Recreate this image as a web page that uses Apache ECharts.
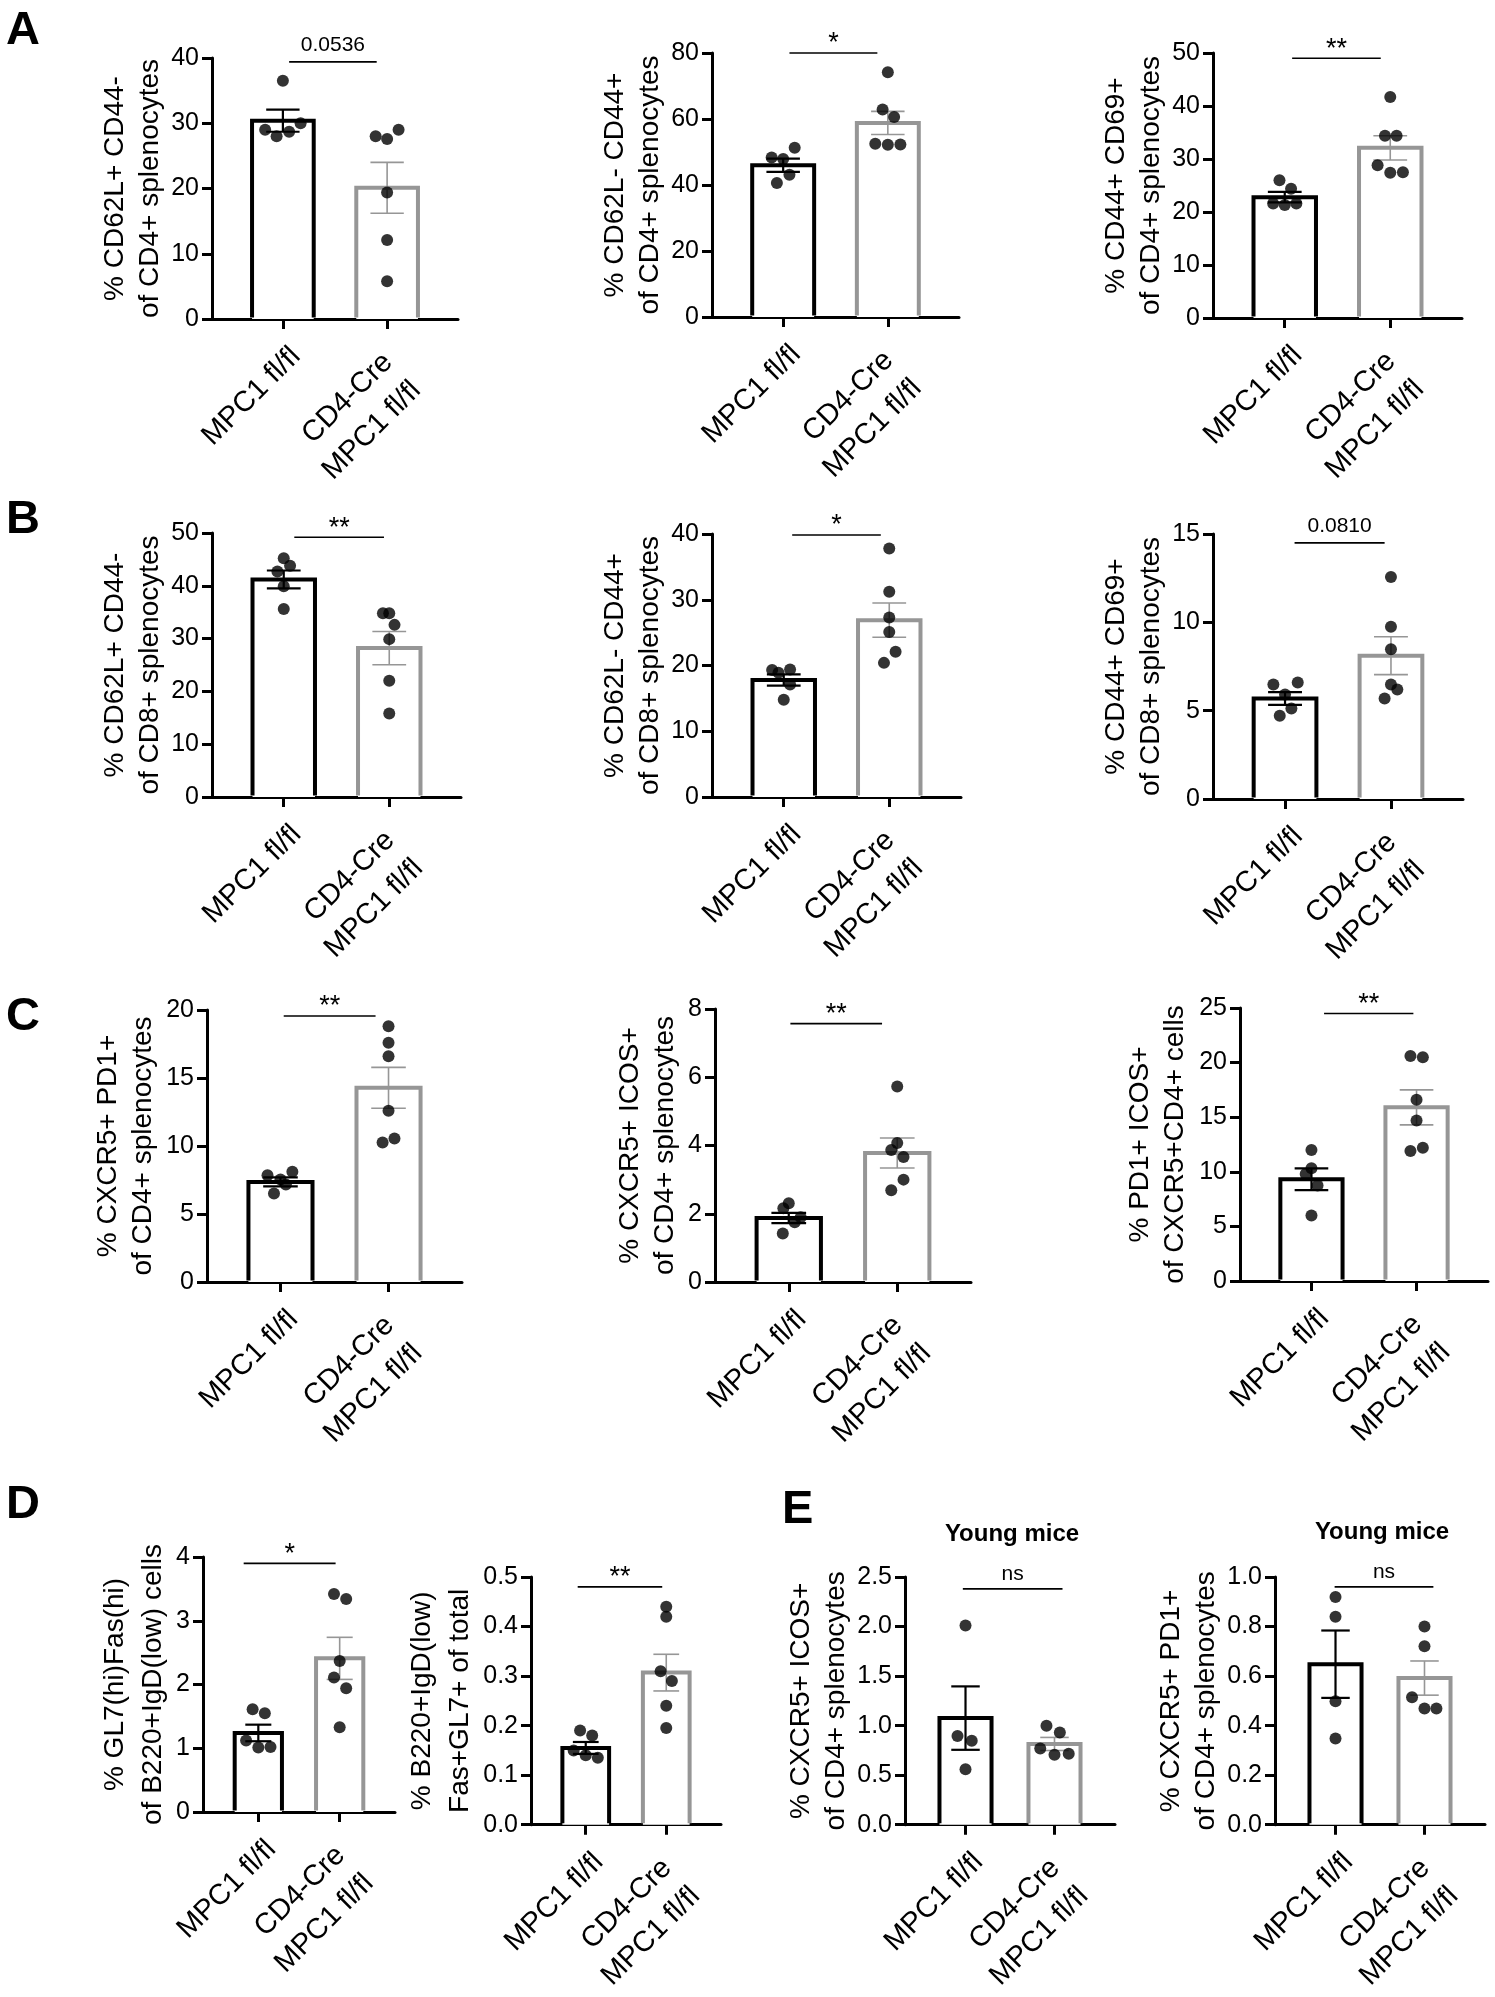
<!DOCTYPE html>
<html><head><meta charset="utf-8">
<script src="https://cdn.jsdelivr.net/npm/echarts@6/dist/echarts.min.js"></script>
<style>html,body{margin:0;padding:0;background:#fff}#c{width:1495px;height:1997px}</style>
</head><body><div id="c"></div>
<script>
// ---------------- DATA ----------------
const groups = ['MPC1 fl/fl', 'CD4-Cre\nMPC1 fl/fl'];

// A1
const A1_ticks = [0, 10, 20, 30, 40];
const A1_ctrl = [36.5, 29.0, 28.0, 28.7, 30.0];
const A1_ctrl_dx = [0, -0.17, -0.06, 0.06, 0.17];
const A1_cre = [28.0, 27.6, 29.0, 19.4, 12.1, 5.8];
const A1_cre_dx = [-0.11, 0, 0.11, 0, 0, 0];
const A1_mean = [30.4, 20.1];
const A1_sem = [1.7, 3.9];
const A1_sig = '0.0536';
// A2
const A2_ticks = [0, 20, 40, 60, 80];
const A2_ctrl = [48.3, 47.9, 51.3, 40.6, 43.1];
const A2_ctrl_dx = [-0.11, 0, 0.11, -0.06, 0.06];
const A2_cre = [74.2, 62.9, 60.6, 52.5, 52.2, 52.3];
const A2_cre_dx = [0, -0.05, 0.06, -0.12, 0, 0.12];
const A2_mean = [46.0, 58.8];
const A2_sem = [2.0, 3.5];
const A2_sig = '*';
// A3
const A3_ticks = [0, 10, 20, 30, 40, 50];
const A3_ctrl = [26.0, 24.4, 21.6, 21.3, 21.6];
const A3_ctrl_dx = [-0.05, 0.06, -0.11, 0, 0.11];
const A3_cre = [41.7, 34.4, 34.4, 28.8, 27.4, 27.5];
const A3_cre_dx = [0, -0.05, 0.06, -0.12, 0, 0.12];
const A3_mean = [22.8, 32.1];
const A3_sem = [1.0, 2.3];
const A3_sig = '**';
// B1
const B1_ticks = [0, 10, 20, 30, 40, 50];
const B1_ctrl = [45.2, 43.8, 42.7, 39.9, 35.6];
const B1_ctrl_dx = [0, 0.06, -0.06, 0, 0];
const B1_cre = [34.8, 34.8, 32.6, 29.9, 22.0, 15.8];
const B1_cre_dx = [-0.06, 0, 0.05, 0, 0, 0];
const B1_mean = [41.2, 28.2];
const B1_sem = [1.7, 3.15];
const B1_sig = '**';
// B2
const B2_ticks = [0, 10, 20, 30, 40];
const B2_ctrl = [19.3, 18.9, 19.4, 17.1, 14.8];
const B2_ctrl_dx = [-0.11, -0.05, 0.06, 0.06, 0];
const B2_cre = [37.8, 31.2, 27.3, 25.1, 22.1, 20.4];
const B2_cre_dx = [0, 0, 0, 0, 0.06, -0.05];
const B2_mean = [17.8, 26.9];
const B2_sem = [0.85, 2.6];
const B2_sig = '*';
// B3
const B3_ticks = [0, 5, 10, 15];
const B3_ctrl = [6.48, 6.6, 5.92, 5.12, 4.71];
const B3_ctrl_dx = [-0.11, 0.12, 0, 0.06, -0.05];
const B3_cre = [12.57, 9.75, 8.47, 6.48, 6.2, 5.69];
const B3_cre_dx = [0, 0, 0, 0, 0.06, -0.06];
const B3_mean = [5.69, 8.11];
const B3_sem = [0.36, 1.07];
const B3_sig = '0.0810';
// C1
const C1_ticks = [0, 5, 10, 15, 20];
const C1_ctrl = [7.85, 8.1, 7.53, 7.17, 6.5];
const C1_ctrl_dx = [-0.12, 0.11, 0, 0.05, -0.06];
const C1_cre = [18.8, 17.6, 16.6, 12.6, 10.55, 10.26];
const C1_cre_dx = [0, 0, 0, 0, 0.055, -0.055];
const C1_mean = [7.36, 14.28];
const C1_sem = [0.33, 1.5];
const C1_sig = '**';
// C2
const C2_ticks = [0, 2, 4, 6, 8];
const C2_ctrl = [2.31, 2.16, 1.9, 1.75, 1.42];
const C2_ctrl_dx = [0, -0.05, 0.11, 0.055, -0.055];
const C2_cre = [5.73, 4.07, 3.87, 3.66, 3.0, 2.69];
const C2_cre_dx = [0, 0, -0.055, 0.058, 0.058, -0.055];
const C2_mean = [1.875, 3.78];
const C2_sem = [0.15, 0.44];
const C2_sig = '**';
// C3
const C3_ticks = [0, 5, 10, 15, 20, 25];
const C3_ctrl = [12.0, 10.33, 9.8, 8.74, 6.0];
const C3_ctrl_dx = [0, 0, -0.055, 0.058, 0];
const C3_cre = [20.6, 20.5, 16.6, 14.7, 11.9, 12.2];
const C3_cre_dx = [-0.058, 0.06, 0, 0, -0.058, 0.06];
const C3_mean = [9.32, 15.9];
const C3_sem = [1.0, 1.6];
const C3_sig = '**';
// D1
const D1_ticks = [0, 1, 2, 3, 4];
const D1_ctrl = [1.61, 1.55, 1.12, 1.01, 1.02];
const D1_ctrl_dx = [-0.07, 0.08, -0.15, 0, 0.15];
const D1_cre = [3.42, 3.34, 2.37, 2.11, 1.94, 1.33];
const D1_cre_dx = [-0.07, 0.08, 0, -0.07, 0.08, 0];
const D1_mean = [1.24, 2.41];
const D1_sem = [0.13, 0.33];
const D1_sig = '*';
// D2
const D2_ticks = [0, 0.1, 0.2, 0.3, 0.4, 0.5];
const D2_ctrl = [0.19, 0.18, 0.15, 0.14, 0.135];
const D2_ctrl_dx = [-0.07, 0.08, -0.15, 0, 0.15];
const D2_cre = [0.44, 0.42, 0.31, 0.29, 0.24, 0.195];
const D2_cre_dx = [0, 0, -0.07, 0.07, 0, 0];
const D2_mean = [0.155, 0.307];
const D2_sem = [0.012, 0.037];
const D2_sig = '**';
// E1
const E1_ticks = [0, 0.5, 1.0, 1.5, 2.0, 2.5];
const E1_ctrl = [2.01, 0.896, 0.847, 0.56];
const E1_ctrl_dx = [0, -0.09, 0.07, 0];
const E1_cre = [1.0, 0.93, 0.77, 0.707, 0.717];
const E1_cre_dx = [-0.09, 0.06, -0.16, 0, 0.16];
const E1_mean = [1.076, 0.815];
const E1_sem = [0.32, 0.066];
const E1_sig = 'ns';
// E2
const E2_ticks = [0, 0.2, 0.4, 0.6, 0.8, 1.0];
const E2_ctrl = [0.919, 0.84, 0.498, 0.348];
const E2_ctrl_dx = [0, 0, 0, 0];
const E2_cre = [0.80, 0.72, 0.515, 0.469, 0.469];
const E2_cre_dx = [0, 0, -0.14, 0, 0.134];
const E2_mean = [0.648, 0.592];
const E2_sem = [0.136, 0.069];
const E2_sig = 'ns';

const panelLetters = ['A', 'B', 'C', 'D', 'E'];
const subtitleE = 'Young mice';

// ---------------- LAYOUT ----------------
const FONT = "'Liberation Sans', Arial, sans-serif";
const NARROW = "'Liberation Sans Narrow', 'Arial Narrow', 'Liberation Sans', Arial, sans-serif";
const BLACK = '#000', GRAY = '#969696';

const panels = [
 {t:A1_ticks,c:A1_ctrl,cd:A1_ctrl_dx,k:A1_cre,kd:A1_cre_dx,m:A1_mean,s:A1_sem,sig:A1_sig,
  name:'% CD62L+ CD44-\nof CD4+ splenocytes', L:{x0:212,x1:458,y0:58,y1:319,gap:42,sy:39.4,sx:[0.06,0.9]}},
 {t:A2_ticks,c:A2_ctrl,cd:A2_ctrl_dx,k:A2_cre,kd:A2_cre_dx,m:A2_mean,s:A2_sem,sig:A2_sig,
  name:'% CD62L- CD44+\nof CD4+ splenocytes', L:{x0:712,x1:959,y0:53,y1:317,gap:44,sy:80,sx:[0.06,0.9]}},
 {t:A3_ticks,c:A3_ctrl,cd:A3_ctrl_dx,k:A3_cre,kd:A3_cre_dx,m:A3_mean,s:A3_sem,sig:A3_sig,
  name:'% CD44+ CD69+\nof CD4+ splenocytes', L:{x0:1213,x1:1462,y0:53,y1:318,gap:43,sy:49.0,sx:[0.07,0.91]}},
 {t:B1_ticks,c:B1_ctrl,cd:B1_ctrl_dx,k:B1_cre,kd:B1_cre_dx,m:B1_mean,s:B1_sem,sig:B1_sig,
  name:'% CD62L+ CD44-\nof CD8+ splenocytes', L:{x0:212,x1:461,y0:533,y1:797,gap:43,sy:49.2,sx:[0.1,0.95]}},
 {t:B2_ticks,c:B2_ctrl,cd:B2_ctrl_dx,k:B2_cre,kd:B2_cre_dx,m:B2_mean,s:B2_sem,sig:B2_sig,
  name:'% CD62L- CD44+\nof CD8+ splenocytes', L:{x0:712,x1:961,y0:534,y1:797,gap:42,sy:39.85,sx:[0.08,0.92]}},
 {t:B3_ticks,c:B3_ctrl,cd:B3_ctrl_dx,k:B3_cre,kd:B3_cre_dx,m:B3_mean,s:B3_sem,sig:B3_sig,
  name:'% CD44+ CD69+\nof CD8+ splenocytes', L:{x0:1213,x1:1463,y0:534,y1:799,gap:42,sy:14.5,sx:[0.09,0.94]}},
 {t:C1_ticks,c:C1_ctrl,cd:C1_ctrl_dx,k:C1_cre,kd:C1_cre_dx,m:C1_mean,s:C1_sem,sig:C1_sig,
  name:'% CXCR5+ PD1+\nof CD4+ splenocytes', L:{x0:207,x1:462,y0:1010,y1:1282,gap:46,sy:19.56,sx:[0.03,0.88]}},
 {t:C2_ticks,c:C2_ctrl,cd:C2_ctrl_dx,k:C2_cre,kd:C2_cre_dx,m:C2_mean,s:C2_sem,sig:C2_sig,
  name:'% CXCR5+ ICOS+\nof CD4+ splenocytes', L:{x0:715,x1:971,y0:1009,y1:1282,gap:32,sy:7.57,sx:[0.015,0.86]}},
 {t:C3_ticks,c:C3_ctrl,cd:C3_ctrl_dx,k:C3_cre,kd:C3_cre_dx,m:C3_mean,s:C3_sem,sig:C3_sig,
  name:'% PD1+ ICOS+\nof CXCR5+CD4+ cells', L:{x0:1240,x1:1488,y0:1008,y1:1281,gap:47,sy:24.5,sx:[0.12,0.97]}},
 {t:D1_ticks,c:D1_ctrl,cd:D1_ctrl_dx,k:D1_cre,kd:D1_cre_dx,m:D1_mean,s:D1_sem,sig:D1_sig,
  name:'% GL7(hi)Fas(hi)\nof B220+IgD(low) cells', L:{x0:203,x1:395,y0:1557,y1:1812,gap:31,lh:38,sy:3.9,sx:[-0.18,0.95]}},
 {t:D2_ticks,c:D2_ctrl,cd:D2_ctrl_dx,k:D2_cre,kd:D2_cre_dx,m:D2_mean,s:D2_sem,sig:D2_sig,dec:1,
  name:'% B220+IgD(low)\nFas+GL7+ of total', L:{x0:531,x1:721,y0:1577,y1:1826,gap:39,lh:38,sy:0.48,sx:[-0.1,0.95]}},
 {t:E1_ticks,c:E1_ctrl,cd:E1_ctrl_dx,k:E1_cre,kd:E1_cre_dx,m:E1_mean,s:E1_sem,sig:E1_sig,dec:1,narrow:true,
  name:'% CXCR5+ ICOS+\nof CD4+ splenocytes', L:{x0:905,x1:1115,y0:1577,y1:1830,gap:36,sy:2.38,sx:[-0.03,1.09]}},
 {t:E2_ticks,c:E2_ctrl,cd:E2_ctrl_dx,k:E2_cre,kd:E2_cre_dx,m:E2_mean,s:E2_sem,sig:E2_sig,dec:1,narrow:true,
  name:'% CXCR5+ PD1+\nof CD4+ splenocytes', L:{x0:1275,x1:1485,y0:1577,y1:1830,gap:36,sy:0.96,sx:[-0.01,1.10]}}
];

const XMIN = -0.68, XMAX = 1.68;
const grid = [], xAxis = [], yAxis = [], series = [];

panels.forEach((p, i) => {
  const L = p.L;
  const fam = p.narrow ? NARROW : FONT;
  grid.push({left: L.x0, top: L.y0, width: L.x1 - L.x0, height: L.y1 - L.y0});
  const unitPx = (L.x1 - L.x0) / (XMAX - XMIN);
  const shift = 15 / unitPx;   // label anchors sit ~15px right of their ticks
  xAxis.push({
    type: 'value', gridIndex: i, min: XMIN, max: XMAX, position: 'bottom', offset: 0,
    splitLine: {show: false},
    axisLine: {show: true, onZero: false, lineStyle: {color: BLACK, width: 3}},
    axisTick: {show: true, customValues: [0, 1], length: 10, lineStyle: {color: BLACK, width: 3}},
    axisLabel: {show: true, customValues: [1 + shift], margin: 53, formatter: () => groups[1],
      rotate: 45, fontSize: 29, lineHeight: 40, color: BLACK, fontFamily: fam, hideOverlap: false}
  });
  const t = p.t;
  yAxis.push({
    type: 'value', gridIndex: i, min: t[0], max: t[t.length - 1], interval: t[1] - t[0],
    splitLine: {show: false},
    axisLine: {show: true, onZero: false, lineStyle: {color: BLACK, width: 3}},
    axisTick: {show: true, length: 10, lineStyle: {color: BLACK, width: 3}},
    axisLabel: {fontSize: 25, color: BLACK, margin: 13, fontFamily: fam,
      formatter: v => p.dec ? v.toFixed(p.dec) : String(v)},
    name: p.name, nameLocation: 'middle', nameRotate: 90, nameGap: L.gap,
    nameTextStyle: {fontSize: 28, lineHeight: L.lh || 35, color: BLACK, fontFamily: fam}
  });
  const cols = [BLACK, GRAY];
  series.push({
    type: 'custom', xAxisIndex: i, yAxisIndex: i, z: 2,
    data: [[0, p.m[0], p.s[0]], [1, p.m[1], p.s[1]]],
    renderItem: (params, api) => {
      const x = api.value(0), m = api.value(1), s = api.value(2);
      const col = cols[params.dataIndex];
      const unit = api.size([1, 0])[0];
      const bw = unit * 0.63 - 4, half = bw / 2;
      const top = api.coord([x, m]), base = api.coord([x, 0]);
      const hi = api.coord([x, m + s]), lo = api.coord([x, m - s]);
      const cx = top[0], by = base[1] - 1.5, cap = unit * 0.16;
      const ew = params.dataIndex === 0 ? 2.2 : 1.6;
      return {type: 'group', children: [
        {type: 'rect', shape: {x: cx - half, y: top[1], width: bw, height: base[1] - top[1]}, style: {fill: '#fff'}},
        {type: 'polyline', shape: {points: [[cx - half, by], [cx - half, top[1]], [cx + half, top[1]], [cx + half, by]]},
         style: {stroke: col, lineWidth: 4, fill: null, lineJoin: 'miter'}},
        {type: 'line', shape: {x1: cx, y1: hi[1], x2: cx, y2: lo[1]}, style: {stroke: col, lineWidth: ew}},
        {type: 'line', shape: {x1: cx - cap, y1: hi[1], x2: cx + cap, y2: hi[1]}, style: {stroke: col, lineWidth: ew}},
        {type: 'line', shape: {x1: cx - cap, y1: lo[1], x2: cx + cap, y2: lo[1]}, style: {stroke: col, lineWidth: ew}}
      ]};
    }
  });
  series.push({
    type: 'scatter', xAxisIndex: i, yAxisIndex: i, z: 5, symbol: 'circle', symbolSize: 12,
    itemStyle: {color: BLACK},
    data: p.c.map((v, k) => [0 + p.cd[k], v]).concat(p.k.map((v, k) => [1 + p.kd[k], v]))
  });
  const isStar = p.sig.indexOf('*') >= 0;
  series.push({
    type: 'custom', xAxisIndex: i, yAxisIndex: i, z: 4,
    data: [[L.sx[0], L.sx[1], L.sy]],
    renderItem: (params, api) => {
      const a = api.coord([api.value(0), api.value(2)]);
      const b = api.coord([api.value(1), api.value(2)]);
      const ty = a[1] - (isStar ? 9 : (p.sig === 'ns' ? 15 : 17));
      return {type: 'group', children: [
        {type: 'line', shape: {x1: a[0], y1: a[1], x2: b[0], y2: b[1]}, style: {stroke: BLACK, lineWidth: 1.6}},
        {type: 'text', style: {text: p.sig, x: (a[0] + b[0]) / 2, y: ty, fill: BLACK,
          fontSize: isStar ? 27 : 21, fontFamily: fam, align: 'center', verticalAlign: 'middle'}}
      ]};
    }
  });
});

// secondary x axes carrying the first-group label (own margin)
panels.forEach((p, i) => {
  const L = p.L;
  const fam = p.narrow ? NARROW : FONT;
  const unitPx = (L.x1 - L.x0) / (XMAX - XMIN);
  const shift = 13 / unitPx;
  xAxis.push({
    type: 'value', gridIndex: i, min: XMIN, max: XMAX, position: 'bottom', offset: 0,
    splitLine: {show: false}, axisLine: {show: false}, axisTick: {show: false},
    axisLabel: {show: true, customValues: [0 + shift], margin: 33, formatter: () => groups[0],
      rotate: 45, fontSize: 29, lineHeight: 40, color: BLACK, fontFamily: fam, hideOverlap: false}
  });
});

const graphic = [
  {type: 'text', left: 6, top: 8, style: {text: panelLetters[0], font: 'bold 47px ' + FONT, fill: BLACK}},
  {type: 'text', left: 6, top: 497, style: {text: panelLetters[1], font: 'bold 47px ' + FONT, fill: BLACK}},
  {type: 'text', left: 6, top: 994, style: {text: panelLetters[2], font: 'bold 47px ' + FONT, fill: BLACK}},
  {type: 'text', left: 6, top: 1482, style: {text: panelLetters[3], font: 'bold 47px ' + FONT, fill: BLACK}},
  {type: 'text', left: 782, top: 1487, style: {text: panelLetters[4], font: 'bold 47px ' + FONT, fill: BLACK}},
  {type: 'text', x: 1012, y: 1534, style: {text: subtitleE, font: 'bold 24px ' + NARROW, fill: BLACK, align: 'center', verticalAlign: 'middle'}},
  {type: 'text', x: 1382, y: 1532, style: {text: subtitleE, font: 'bold 24px ' + NARROW, fill: BLACK, align: 'center', verticalAlign: 'middle'}}
];

const chart = echarts.init(document.getElementById('c'), null, {renderer: 'canvas'});
chart.setOption({backgroundColor: '#fff', animation: false, grid, xAxis, yAxis, series, graphic});
</script>
</body></html>
